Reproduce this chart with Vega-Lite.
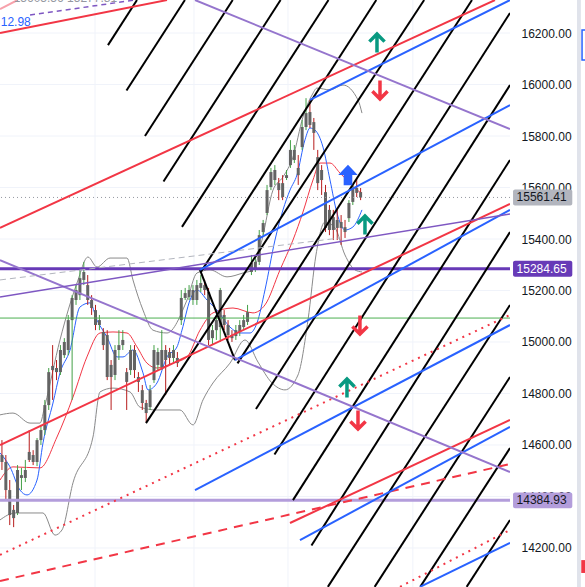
{
"$schema": "https://vega.github.io/schema/vega-lite/v6.json",
"width": 510, "height": 587,
"autosize": {"type": "none"},
"padding": {"left": 0, "top": 0, "right": 75, "bottom": 0},
"background": "#ffffff",
"config": {"view": {"stroke": null}},
"resolve": {"axis": {"y": "independent"}},
"datasets": {
"gridH": [{"p":14200},{"p":14400},{"p":14600},{"p":14800},{"p":15000},{"p":15200},{"p":15400},{"p":15600},{"p":15800},{"p":16000},{"p":16200}],
"gridV": [{"x":23.87},{"x":49.26},{"x":73.37},{"x":105.4}],
"candles": [
{"i":0,"o":14561,"c":14534,"h":14619,"l":14503},{"i":1,"o":14534,"c":14425,"h":14561,"l":14386},{"i":2,"o":14425,"c":14328,"h":14464,"l":14289},{"i":3,"o":14348,"c":14316,"h":14367,"l":14281},{"i":4,"o":14336,"c":14503,"h":14522,"l":14328},{"i":5,"o":14472,"c":14483,"h":14511,"l":14425},{"i":6,"o":14472,"c":14503,"h":14542,"l":14456},{"i":7,"o":14573,"c":14542,"h":14658,"l":14534},{"i":8,"o":14561,"c":14534,"h":14580,"l":14522},{"i":9,"o":14534,"c":14619,"h":14627,"l":14518},
{"i":10,"o":14619,"c":14658,"h":14678,"l":14600},{"i":11,"o":14658,"c":14755,"h":14775,"l":14639},{"i":12,"o":14755,"c":14883,"h":14899,"l":14736},{"i":13,"o":14907,"c":14891,"h":14988,"l":14775},{"i":14,"o":14899,"c":14883,"h":14930,"l":14852},{"i":15,"o":14883,"c":14969,"h":14988,"l":14872},{"i":16,"o":14949,"c":15000,"h":15015,"l":14938},{"i":17,"o":14969,"c":15085,"h":15105,"l":14949},{"i":18,"o":15085,"c":15171,"h":15182,"l":14775},{"i":19,"o":15163,"c":15202,"h":15221,"l":15144},
{"i":20,"o":15182,"c":15248,"h":15280,"l":15163},{"i":21,"o":15241,"c":15272,"h":15311,"l":15221},{"i":22,"o":15221,"c":15163,"h":15260,"l":15144},{"i":23,"o":15163,"c":15132,"h":15182,"l":15105},{"i":24,"o":15124,"c":15066,"h":15144,"l":15046},{"i":25,"o":15066,"c":15085,"h":15105,"l":15046},{"i":26,"o":15039,"c":14988,"h":15054,"l":14969},{"i":27,"o":15027,"c":14864,"h":15046,"l":14852},{"i":28,"o":14911,"c":14864,"h":14930,"l":14736},{"i":29,"o":14872,"c":14969,"h":14988,"l":14852},
{"i":30,"o":14969,"c":14988,"h":15046,"l":14930},{"i":31,"o":14988,"c":15008,"h":15046,"l":14969},{"i":32,"o":14883,"c":14845,"h":14899,"l":14736},{"i":33,"o":14891,"c":14969,"h":14988,"l":14872},{"i":34,"o":14969,"c":14891,"h":14988,"l":14860},{"i":35,"o":14864,"c":14845,"h":14883,"l":14806},{"i":36,"o":14813,"c":14763,"h":14833,"l":14736},{"i":37,"o":14763,"c":14724,"h":14775,"l":14689},{"i":38,"o":14747,"c":14813,"h":14833,"l":14736},{"i":39,"o":14852,"c":14969,"h":14988,"l":14841},
{"i":40,"o":14911,"c":14961,"h":14977,"l":14891},{"i":41,"o":14903,"c":14969,"h":15046,"l":14891},{"i":42,"o":14969,"c":14930,"h":14988,"l":14794},{"i":43,"o":14961,"c":14938,"h":14977,"l":14911},{"i":44,"o":14938,"c":14969,"h":14988,"l":14922},{"i":45,"o":14938,"c":14918,"h":14961,"l":14903},{"i":46,"o":15085,"c":15171,"h":15202,"l":15066},{"i":47,"o":15171,"c":15190,"h":15210,"l":15163},{"i":48,"o":15175,"c":15202,"h":15221,"l":15163},{"i":49,"o":15163,"c":15202,"h":15221,"l":15144},
{"i":50,"o":15163,"c":15221,"h":15241,"l":15144},{"i":51,"o":15210,"c":15229,"h":15260,"l":15194},{"i":52,"o":15221,"c":15202,"h":15241,"l":15182},{"i":53,"o":15194,"c":15008,"h":15210,"l":14988},{"i":54,"o":15015,"c":15046,"h":15066,"l":14988},{"i":55,"o":15046,"c":15085,"h":15105,"l":15008},{"i":56,"o":15058,"c":15202,"h":15210,"l":15000},{"i":57,"o":15105,"c":15066,"h":15124,"l":15046},{"i":58,"o":15066,"c":15027,"h":15085,"l":15008},{"i":59,"o":15027,"c":15015,"h":15046,"l":15000},
{"i":60,"o":15023,"c":15046,"h":15066,"l":15008},{"i":61,"o":15039,"c":15066,"h":15085,"l":15023},{"i":62,"o":15058,"c":15085,"h":15105,"l":15046},{"i":63,"o":15078,"c":15116,"h":15144,"l":15066},{"i":64,"o":15272,"c":15307,"h":15338,"l":15260},{"i":65,"o":15287,"c":15311,"h":15326,"l":15272},{"i":66,"o":15311,"c":15415,"h":15435,"l":15299},{"i":67,"o":15427,"c":15462,"h":15474,"l":15415},{"i":68,"o":15501,"c":15590,"h":15610,"l":15493},{"i":69,"o":15602,"c":15660,"h":15676,"l":15590},
{"i":70,"o":15629,"c":15668,"h":15687,"l":15610},{"i":71,"o":15617,"c":15590,"h":15637,"l":15551},{"i":72,"o":15617,"c":15563,"h":15648,"l":15551},{"i":73,"o":15637,"c":15648,"h":15668,"l":15629},{"i":74,"o":15687,"c":15746,"h":15784,"l":15676},{"i":75,"o":15707,"c":15746,"h":15765,"l":15695},{"i":76,"o":15676,"c":15648,"h":15726,"l":15610},{"i":77,"o":15757,"c":15835,"h":15862,"l":15746},{"i":78,"o":15835,"c":15889,"h":15947,"l":15823},{"i":79,"o":15893,"c":15843,"h":15940,"l":15831},
{"i":80,"o":15854,"c":15812,"h":15870,"l":15746},{"i":81,"o":15718,"c":15617,"h":15746,"l":15590},{"i":82,"o":15668,"c":15629,"h":15687,"l":15571},{"i":83,"o":15582,"c":15443,"h":15610,"l":15427},{"i":84,"o":15513,"c":15435,"h":15532,"l":15415},{"i":85,"o":15485,"c":15435,"h":15513,"l":15396},{"i":86,"o":15474,"c":15443,"h":15513,"l":15396},{"i":87,"o":15466,"c":15443,"h":15493,"l":15377},{"i":88,"o":15446,"c":15427,"h":15474,"l":15404},{"i":89,"o":15481,"c":15540,"h":15551,"l":15466},
{"i":90,"o":15544,"c":15598,"h":15610,"l":15532},{"i":91,"o":15598,"c":15579,"h":15637,"l":15563},{"i":92,"o":15582,"c":15561,"h":15598,"l":15551}
],
"curves": [
{"s":"bbu","x":-0.5,"p":14717},{"s":"bbu","x":2.83,"p":14724},{"s":"bbu","x":7.2,"p":14685},{"s":"bbu","x":9.76,"p":14685},{"s":"bbu","x":11.04,"p":14755},{"s":"bbu","x":14.89,"p":15008},{"s":"bbu","x":19.25,"p":15229},{"s":"bbu","x":22.07,"p":15330},{"s":"bbu","x":24.38,"p":15291},{"s":"bbu","x":27.72,"p":15326},{"s":"bbu","x":32.08,"p":15326},{"s":"bbu","x":33.61,"p":15241},{"s":"bbu","x":36.18,"p":15124},{"s":"bbu","x":38.74,"p":15046},{"s":"bbu","x":42.34,"p":15035},{"s":"bbu","x":47.47,"p":15163},{"s":"bbu","x":50.03,"p":15268},{"s":"bbu","x":53.37,"p":15280},{"s":"bbu","x":57.73,"p":15253},{"s":"bbu","x":61.83,"p":15268},{"s":"bbu","x":64.39,"p":15280},{"s":"bbu","x":66.7,"p":15396},{"s":"bbu","x":69.52,"p":15590},{"s":"bbu","x":72.09,"p":15641},{"s":"bbu","x":74.65,"p":15718},{"s":"bbu","x":77.22,"p":15874},{"s":"bbu","x":79.53,"p":15959},{"s":"bbu","x":80.81,"p":15986},{"s":"bbu","x":84.15,"p":15979},{"s":"bbu","x":87.48,"p":15998},{"s":"bbu","x":91.33,"p":15940},{"s":"bbu","x":92.35,"p":15889},
{"s":"bbl","x":-0.5,"p":14309},{"s":"bbl","x":3.35,"p":14336},{"s":"bbl","x":10.53,"p":14336},{"s":"bbl","x":13.61,"p":14250},{"s":"bbl","x":15.4,"p":14270},{"s":"bbl","x":18.22,"p":14453},{"s":"bbl","x":23.35,"p":14631},{"s":"bbl","x":25.15,"p":14806},{"s":"bbl","x":28.48,"p":14821},{"s":"bbl","x":32.85,"p":14806},{"s":"bbl","x":35.41,"p":14747},{"s":"bbl","x":39.77,"p":14736},{"s":"bbl","x":45.67,"p":14736},{"s":"bbl","x":49.0,"p":14678},{"s":"bbl","x":51.57,"p":14775},{"s":"bbl","x":54.13,"p":14841},{"s":"bbl","x":58.5,"p":14918},{"s":"bbl","x":62.34,"p":15008},{"s":"bbl","x":65.68,"p":14922},{"s":"bbl","x":69.27,"p":14841},{"s":"bbl","x":72.6,"p":14814},{"s":"bbl","x":75.94,"p":14872},{"s":"bbl","x":78.5,"p":15085},{"s":"bbl","x":80.55,"p":15338},{"s":"bbl","x":82.85,"p":15466},{"s":"bbl","x":85.43,"p":15443},{"s":"bbl","x":87.99,"p":15338},{"s":"bbl","x":90.56,"p":15280},{"s":"bbl","x":92.35,"p":15272},
{"s":"ma2","x":-0.5,"p":14464},{"s":"ma2","x":2.83,"p":14515},{"s":"ma2","x":9.76,"p":14511},{"s":"ma2","x":14.12,"p":14631},{"s":"ma2","x":18.22,"p":14786},{"s":"ma2","x":21.8,"p":14942},{"s":"ma2","x":25.15,"p":15035},{"s":"ma2","x":28.48,"p":15039},{"s":"ma2","x":32.08,"p":15035},{"s":"ma2","x":34.64,"p":14981},{"s":"ma2","x":37.2,"p":14918},{"s":"ma2","x":39.77,"p":14899},{"s":"ma2","x":43.87,"p":14918},{"s":"ma2","x":47.47,"p":14942},{"s":"ma2","x":50.8,"p":15046},{"s":"ma2","x":54.13,"p":15113},{"s":"ma2","x":59.26,"p":15132},{"s":"ma2","x":64.39,"p":15113},{"s":"ma2","x":67.47,"p":15144},{"s":"ma2","x":71.32,"p":15280},{"s":"ma2","x":74.65,"p":15396},{"s":"ma2","x":77.22,"p":15505},{"s":"ma2","x":79.78,"p":15629},{"s":"ma2","x":81.58,"p":15695},{"s":"ma2","x":84.15,"p":15695},{"s":"ma2","x":86.71,"p":15656},{"s":"ma2","x":89.28,"p":15617},{"s":"ma2","x":91.07,"p":15590},{"s":"ma2","x":92.35,"p":15579},
{"s":"ma1","x":-0.5,"p":14569},{"s":"ma1","x":2.07,"p":14515},{"s":"ma1","x":4.63,"p":14425},{"s":"ma1","x":6.43,"p":14406},{"s":"ma1","x":9.0,"p":14464},{"s":"ma1","x":10.53,"p":14608},{"s":"ma1","x":13.09,"p":14763},{"s":"ma1","x":14.89,"p":14880},{"s":"ma1","x":17.46,"p":14969},{"s":"ma1","x":20.02,"p":15136},{"s":"ma1","x":22.59,"p":15152},{"s":"ma1","x":24.38,"p":15085},{"s":"ma1","x":26.95,"p":15019},{"s":"ma1","x":29.51,"p":14942},{"s":"ma1","x":31.05,"p":14942},{"s":"ma1","x":33.61,"p":14969},{"s":"ma1","x":36.18,"p":14880},{"s":"ma1","x":37.46,"p":14814},{"s":"ma1","x":39.77,"p":14841},{"s":"ma1","x":42.34,"p":14942},{"s":"ma1","x":44.9,"p":14981},{"s":"ma1","x":46.18,"p":15046},{"s":"ma1","x":48.24,"p":15163},{"s":"ma1","x":50.03,"p":15202},{"s":"ma1","x":52.6,"p":15163},{"s":"ma1","x":55.16,"p":15124},{"s":"ma1","x":58.5,"p":15058},{"s":"ma1","x":61.06,"p":15035},{"s":"ma1","x":63.63,"p":15035},{"s":"ma1","x":65.42,"p":15074},{"s":"ma1","x":67.47,"p":15202},{"s":"ma1","x":70.04,"p":15396},{"s":"ma1","x":72.09,"p":15513},{"s":"ma1","x":73.89,"p":15590},{"s":"ma1","x":75.68,"p":15649},{"s":"ma1","x":77.73,"p":15785},{"s":"ma1","x":79.02,"p":15831},{"s":"ma1","x":80.3,"p":15823},{"s":"ma1","x":82.35,"p":15757},{"s":"ma1","x":84.15,"p":15629},{"s":"ma1","x":85.94,"p":15501},{"s":"ma1","x":87.99,"p":15435},{"s":"ma1","x":90.04,"p":15447},{"s":"ma1","x":92.35,"p":15513}
],
"segs": [
{"g":"black","x1":27.2,"p1":16153,"x2":34.64,"p2":16328},
{"g":"black","x1":31.95,"p1":15977,"x2":46.93,"p2":16328},
{"g":"black","x1":36.69,"p1":15800,"x2":59.19,"p2":16328},
{"g":"black","x1":41.44,"p1":15623,"x2":71.47,"p2":16328},
{"g":"black","x1":46.18,"p1":15447,"x2":83.76,"p2":16328},
{"g":"black","x1":50.93,"p1":15270,"x2":96.02,"p2":16328},
{"g":"black","x1":36.95,"p1":14685,"x2":108.3,"p2":16328},
{"g":"black","x1":60.42,"p1":14917,"x2":120.57,"p2":16328},
{"g":"black","x1":65.16,"p1":14740,"x2":130.32,"p2":16278},
{"g":"black","x1":69.91,"p1":14563,"x2":130.32,"p2":15998},
{"g":"black","x1":74.65,"p1":14386,"x2":130.32,"p2":15707},
{"g":"black","x1":79.4,"p1":14210,"x2":130.32,"p2":15427},
{"g":"black","x1":83.6,"p1":14049,"x2":130.32,"p2":15144},
{"g":"black","x1":95.6,"p1":14049,"x2":130.32,"p2":14864},
{"g":"black","x1":107.3,"p1":14049,"x2":130.32,"p2":14588},
{"g":"black","x1":119.2,"p1":14049,"x2":130.32,"p2":14309},
{"g":"black","x1":50.8,"p1":15280,"x2":59.78,"p2":14930},
{"g":"red","x1":-0.5,"p1":15443,"x2":126.47,"p2":16328},
{"g":"red","x1":-0.5,"p1":14600,"x2":130.32,"p2":15536},
{"g":"red","x1":73.89,"p1":14297,"x2":130.32,"p2":14697},
{"g":"red","x1":-0.5,"p1":16200,"x2":42.34,"p2":16328},
{"g":"redfaint","x1":-0.5,"p1":16293,"x2":4.0,"p2":16328},
{"g":"reddot","x1":-0.5,"p1":14173,"x2":130.32,"p2":15105},
{"g":"reddot","x1":102.1,"p1":14049,"x2":130.32,"p2":14270},
{"g":"reddash","x1":-0.5,"p1":14072,"x2":130.32,"p2":14526},
{"g":"blue","x1":79.02,"p1":15940,"x2":130.32,"p2":16328},
{"g":"blue","x1":50.8,"p1":15280,"x2":130.32,"p2":15920},
{"g":"blue","x1":59.78,"p1":14930,"x2":130.32,"p2":15513},
{"g":"blue","x1":49.52,"p1":14425,"x2":130.32,"p2":15066},
{"g":"blue","x1":76.45,"p1":14231,"x2":130.32,"p2":14670},
{"g":"blue","x1":107.23,"p1":14049,"x2":130.32,"p2":14220},
{"g":"purple","x1":49.52,"p1":16328,"x2":130.32,"p2":15827},
{"g":"purple","x1":-0.5,"p1":15318,"x2":130.32,"p2":14495},
{"g":"purplethin","x1":-0.5,"p1":15175,"x2":130.32,"p2":15497},
{"g":"greydash","x1":-0.5,"p1":15241,"x2":86.71,"p2":15404},
{"g":"purpledash","x1":7.2,"p1":16270,"x2":34.13,"p2":16328}
],
"arrows": [
{"x":96.2,"p":16161,"d":"up","c":"green"},
{"x":96.97,"p":15979,"d":"down","c":"red"},
{"x":93.12,"p":15454,"d":"up","c":"green"},
{"x":91.83,"p":15066,"d":"down","c":"red"},
{"x":88.5,"p":14821,"d":"up","c":"green"},
{"x":91.33,"p":14697,"d":"down","c":"red"}
],
"tags": [
{"p":15561.41,"label":"15561.41","g":"last"},
{"p":15284.65,"label":"15284.65","g":"lvl1"},
{"p":14384.93,"label":"14384.93","g":"lvl2"}
]
},
"layer": [
{"data":{"name":"gridH"},"mark":{"type":"rule","color":"#f0f3fa","strokeWidth":1},
 "encoding":{"y":{"field":"p","type":"quantitative","scale":{"domain":[14048.5,16328.2],"nice":false,"zero":false},
  "axis":{"orient":"right","values":[14200,14400,14600,14800,15000,15200,15400,15600,15800,16000,16200],"format":".2f","title":null,"ticks":false,"domain":false,"grid":false,"labelPadding":11,"labelFont":"Liberation Sans","labelFontSize":12,"labelColor":"#131722"}}}},
{"data":{"name":"gridV"},"mark":{"type":"rule","color":"#f0f3fa","strokeWidth":1},
 "encoding":{"x":{"field":"x","type":"quantitative","scale":{"domain":[-0.5,130.32],"nice":false,"zero":false},"axis":null}}},
{"data":{"values":[{"a":147.5,"b":148.5,"lo":14048.5,"hi":16328.2}]},"mark":{"type":"rect","fill":"#e0e3eb"},
 "encoding":{"x":{"field":"a","type":"quantitative","scale":{"domain":[-0.5,130.32],"nice":false,"zero":false},"axis":null},"x2":{"field":"b"},
  "y":{"field":"lo","type":"quantitative","scale":{"domain":[14048.5,16328.2],"nice":false,"zero":false},"axis":null},"y2":{"field":"hi"}}},
{"data":{"values":[{"a":148.8,"b":151,"lo":16095,"hi":16212}]},"mark":{"type":"rect","fill":"#ffffff","stroke":"#2962ff","strokeWidth":1.5},
 "encoding":{"x":{"field":"a","type":"quantitative","scale":{"domain":[-0.5,130.32],"nice":false,"zero":false},"axis":null},"x2":{"field":"b"},
  "y":{"field":"lo","type":"quantitative","scale":{"domain":[14048.5,16328.2],"nice":false,"zero":false},"axis":null},"y2":{"field":"hi"}}},
{"data":{"values":[{"a":148.6,"b":150,"lo":14103,"hi":14153}]},"mark":{"type":"rect","fill":"#f23645"},
 "encoding":{"x":{"field":"a","type":"quantitative","scale":{"domain":[-0.5,130.32],"nice":false,"zero":false},"axis":null},"x2":{"field":"b"},
  "y":{"field":"lo","type":"quantitative","scale":{"domain":[14048.5,16328.2],"nice":false,"zero":false},"axis":null},"y2":{"field":"hi"}}},
{"data":{"name":"curves"},"mark":{"type":"line","strokeWidth":1,"interpolate":"monotone","clip":true},
 "encoding":{"x":{"field":"x","type":"quantitative","scale":{"domain":[-0.5,130.32],"nice":false,"zero":false},"axis":null},
  "y":{"field":"p","type":"quantitative","scale":{"domain":[14048.5,16328.2],"nice":false,"zero":false},"axis":null},
  "color":{"field":"s","type":"nominal","scale":{"domain":["bbu","bbl","ma1","ma2"],"range":["#8a8a8a","#8a8a8a","#2962ff","#f23645"]},"legend":null}}},
{"data":{"name":"candles"},"mark":{"type":"rule","strokeWidth":1},
 "encoding":{"x":{"field":"i","type":"quantitative","scale":{"domain":[-0.5,130.32],"nice":false,"zero":false},"axis":null},
  "y":{"field":"l","type":"quantitative","scale":{"domain":[14048.5,16328.2],"nice":false,"zero":false},"axis":null},"y2":{"field":"h"},
  "color":{"condition":{"test":"datum.c >= datum.o","value":"#43a047"},"value":"#b71c1c"}}},
{"data":{"name":"candles"},"mark":{"type":"rule","strokeWidth":3,"strokeCap":"butt","color":"#636363"},
 "encoding":{"x":{"field":"i","type":"quantitative","scale":{"domain":[-0.5,130.32],"nice":false,"zero":false},"axis":null},
  "y":{"field":"o","type":"quantitative","scale":{"domain":[14048.5,16328.2],"nice":false,"zero":false},"axis":null},"y2":{"field":"c"}}},
{"data":{"values":[{"p":15093}]},"mark":{"type":"rule","color":"#4caf50","strokeWidth":1},
 "encoding":{"y":{"field":"p","type":"quantitative","scale":{"domain":[14048.5,16328.2],"nice":false,"zero":false},"axis":null}}},
{"data":{"values":[{"p":15561.41}]},"mark":{"type":"rule","color":"#9598a1","strokeWidth":1,"strokeDash":[1,3]},
 "encoding":{"y":{"field":"p","type":"quantitative","scale":{"domain":[14048.5,16328.2],"nice":false,"zero":false},"axis":null}}},
{"data":{"values":[{"p":15284.65}]},"mark":{"type":"rule","color":"#673ab7","strokeWidth":3},
 "encoding":{"y":{"field":"p","type":"quantitative","scale":{"domain":[14048.5,16328.2],"nice":false,"zero":false},"axis":null}}},
{"data":{"values":[{"p":14384.93}]},"mark":{"type":"rule","color":"#b39ddb","strokeWidth":3},
 "encoding":{"y":{"field":"p","type":"quantitative","scale":{"domain":[14048.5,16328.2],"nice":false,"zero":false},"axis":null}}},
{"data":{"name":"segs"},"transform":[{"filter":"datum.g == 'black'"}],"mark":{"type":"rule","color":"#000000","strokeWidth":2,"clip":true},
 "encoding":{"x":{"field":"x1","type":"quantitative","scale":{"domain":[-0.5,130.32],"nice":false,"zero":false},"axis":null},"x2":{"field":"x2"},
  "y":{"field":"p1","type":"quantitative","scale":{"domain":[14048.5,16328.2],"nice":false,"zero":false},"axis":null},"y2":{"field":"p2"}}},
{"data":{"name":"segs"},"transform":[{"filter":"datum.g == 'red'"}],"mark":{"type":"rule","color":"#f23645","strokeWidth":2,"clip":true},
 "encoding":{"x":{"field":"x1","type":"quantitative","scale":{"domain":[-0.5,130.32],"nice":false,"zero":false},"axis":null},"x2":{"field":"x2"},
  "y":{"field":"p1","type":"quantitative","scale":{"domain":[14048.5,16328.2],"nice":false,"zero":false},"axis":null},"y2":{"field":"p2"}}},
{"data":{"name":"segs"},"transform":[{"filter":"datum.g == 'redfaint'"}],"mark":{"type":"rule","color":"#f7a1ab","strokeWidth":2,"clip":true},
 "encoding":{"x":{"field":"x1","type":"quantitative","scale":{"domain":[-0.5,130.32],"nice":false,"zero":false},"axis":null},"x2":{"field":"x2"},
  "y":{"field":"p1","type":"quantitative","scale":{"domain":[14048.5,16328.2],"nice":false,"zero":false},"axis":null},"y2":{"field":"p2"}}},
{"data":{"name":"segs"},"transform":[{"filter":"datum.g == 'reddot'"}],"mark":{"type":"rule","color":"#f23645","strokeWidth":2,"strokeDash":[2,5],"clip":true},
 "encoding":{"x":{"field":"x1","type":"quantitative","scale":{"domain":[-0.5,130.32],"nice":false,"zero":false},"axis":null},"x2":{"field":"x2"},
  "y":{"field":"p1","type":"quantitative","scale":{"domain":[14048.5,16328.2],"nice":false,"zero":false},"axis":null},"y2":{"field":"p2"}}},
{"data":{"name":"segs"},"transform":[{"filter":"datum.g == 'reddash'"}],"mark":{"type":"rule","color":"#f23645","strokeWidth":2,"strokeDash":[9,7],"clip":true},
 "encoding":{"x":{"field":"x1","type":"quantitative","scale":{"domain":[-0.5,130.32],"nice":false,"zero":false},"axis":null},"x2":{"field":"x2"},
  "y":{"field":"p1","type":"quantitative","scale":{"domain":[14048.5,16328.2],"nice":false,"zero":false},"axis":null},"y2":{"field":"p2"}}},
{"data":{"name":"segs"},"transform":[{"filter":"datum.g == 'blue'"}],"mark":{"type":"rule","color":"#2962ff","strokeWidth":2,"clip":true},
 "encoding":{"x":{"field":"x1","type":"quantitative","scale":{"domain":[-0.5,130.32],"nice":false,"zero":false},"axis":null},"x2":{"field":"x2"},
  "y":{"field":"p1","type":"quantitative","scale":{"domain":[14048.5,16328.2],"nice":false,"zero":false},"axis":null},"y2":{"field":"p2"}}},
{"data":{"name":"segs"},"transform":[{"filter":"datum.g == 'purple'"}],"mark":{"type":"rule","color":"#9575cd","strokeWidth":2,"clip":true},
 "encoding":{"x":{"field":"x1","type":"quantitative","scale":{"domain":[-0.5,130.32],"nice":false,"zero":false},"axis":null},"x2":{"field":"x2"},
  "y":{"field":"p1","type":"quantitative","scale":{"domain":[14048.5,16328.2],"nice":false,"zero":false},"axis":null},"y2":{"field":"p2"}}},
{"data":{"name":"segs"},"transform":[{"filter":"datum.g == 'purplethin'"}],"mark":{"type":"rule","color":"#7e57c2","strokeWidth":1.5,"clip":true},
 "encoding":{"x":{"field":"x1","type":"quantitative","scale":{"domain":[-0.5,130.32],"nice":false,"zero":false},"axis":null},"x2":{"field":"x2"},
  "y":{"field":"p1","type":"quantitative","scale":{"domain":[14048.5,16328.2],"nice":false,"zero":false},"axis":null},"y2":{"field":"p2"}}},
{"data":{"name":"segs"},"transform":[{"filter":"datum.g == 'greydash'"}],"mark":{"type":"rule","color":"#b2b5be","strokeWidth":1,"strokeDash":[6,4],"clip":true},
 "encoding":{"x":{"field":"x1","type":"quantitative","scale":{"domain":[-0.5,130.32],"nice":false,"zero":false},"axis":null},"x2":{"field":"x2"},
  "y":{"field":"p1","type":"quantitative","scale":{"domain":[14048.5,16328.2],"nice":false,"zero":false},"axis":null},"y2":{"field":"p2"}}},
{"data":{"name":"segs"},"transform":[{"filter":"datum.g == 'purpledash'"}],"mark":{"type":"rule","color":"#7e57c2","strokeWidth":1.5,"strokeDash":[5,4],"clip":true},
 "encoding":{"x":{"field":"x1","type":"quantitative","scale":{"domain":[-0.5,130.32],"nice":false,"zero":false},"axis":null},"x2":{"field":"x2"},
  "y":{"field":"p1","type":"quantitative","scale":{"domain":[14048.5,16328.2],"nice":false,"zero":false},"axis":null},"y2":{"field":"p2"}}},
{"data":{"name":"arrows"},"mark":{"type":"point","filled":false,"strokeWidth":3.5,"size":360,"opacity":1},
 "encoding":{"x":{"field":"x","type":"quantitative","scale":{"domain":[-0.5,130.32],"nice":false,"zero":false},"axis":null},
  "y":{"field":"p","type":"quantitative","scale":{"domain":[14048.5,16328.2],"nice":false,"zero":false},"axis":null},
  "shape":{"field":"d","type":"nominal","scale":{"domain":["up","down"],"range":["M0,1 L0,-0.95 M-0.8,-0.15 L0,-0.95 L0.8,-0.15","M0,-1 L0,0.95 M-0.8,0.15 L0,0.95 L0.8,0.15"]},"legend":null},
  "color":{"condition":{"test":"datum.c == 'green'","value":"#089981"},"value":"#f23645"}}},
{"data":{"values":[{"x":88.76,"p":15649,"d":"big"}]},"mark":{"type":"point","filled":true,"size":420,"color":"#2962ff","opacity":1,"shape":"M0,-1 L0.95,0 L0.42,0 L0.42,1 L-0.42,1 L-0.42,0 L-0.95,0 Z"},
 "encoding":{"x":{"field":"x","type":"quantitative","scale":{"domain":[-0.5,130.32],"nice":false,"zero":false},"axis":null},
  "y":{"field":"p","type":"quantitative","scale":{"domain":[14048.5,16328.2],"nice":false,"zero":false},"axis":null}}},
{"data":{"name":"tags"},"transform":[{"calculate":"datum.p - 31","as":"lo"},{"calculate":"datum.p + 31","as":"hi"},{"calculate":"131.1","as":"a"},{"calculate":"146.3","as":"b"}],
 "mark":{"type":"rect","cornerRadius":2},
 "encoding":{"x":{"field":"a","type":"quantitative","scale":{"domain":[-0.5,130.32],"nice":false,"zero":false},"axis":null},"x2":{"field":"b"},
  "y":{"field":"lo","type":"quantitative","scale":{"domain":[14048.5,16328.2],"nice":false,"zero":false},"axis":null},"y2":{"field":"hi"},
  "color":{"condition":[{"test":"datum.g == 'last'","value":"#b2b5be"},{"test":"datum.g == 'lvl1'","value":"#673ab7"}],"value":"#b39ddb"}}},
{"data":{"name":"tags"},"transform":[{"calculate":"132.0","as":"a"}],
 "mark":{"type":"text","align":"left","baseline":"middle","font":"Liberation Sans","fontSize":12},
 "encoding":{"x":{"field":"a","type":"quantitative","scale":{"domain":[-0.5,130.32],"nice":false,"zero":false},"axis":null},
  "y":{"field":"p","type":"quantitative","scale":{"domain":[14048.5,16328.2],"nice":false,"zero":false},"axis":null},
  "text":{"field":"label"},
  "color":{"condition":{"test":"datum.g == 'lvl1'","value":"#ffffff"},"value":"#131722"}}},
{"data":{"values":[{"x":3.0,"p":16320,"t":"15605.56  15277.81"}]},"mark":{"type":"text","align":"left","baseline":"alphabetic","font":"Liberation Sans","fontSize":12,"color":"#9598a1"},
 "encoding":{"x":{"field":"x","type":"quantitative","scale":{"domain":[-0.5,130.32],"nice":false,"zero":false},"axis":null},
  "y":{"field":"p","type":"quantitative","scale":{"domain":[14048.5,16328.2],"nice":false,"zero":false},"axis":null},"text":{"field":"t"}}},
{"data":{"values":[{"x":7.4,"p":16243,"t":"12.98"}]},"mark":{"type":"text","align":"right","baseline":"middle","font":"Liberation Sans","fontSize":12,"color":"#2962ff"},
 "encoding":{"x":{"field":"x","type":"quantitative","scale":{"domain":[-0.5,130.32],"nice":false,"zero":false},"axis":null},
  "y":{"field":"p","type":"quantitative","scale":{"domain":[14048.5,16328.2],"nice":false,"zero":false},"axis":null},"text":{"field":"t"}}}
]
}
